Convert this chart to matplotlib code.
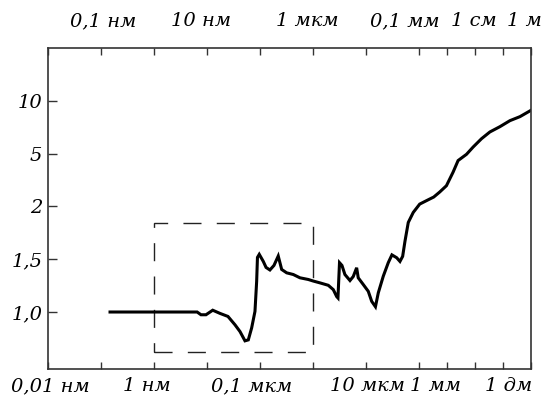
import numpy as np
import matplotlib
matplotlib.use("Agg")
import matplotlib.pyplot as plt
from matplotlib.patches import Rectangle

# Characteristic length (m) and the ratio plotted against it
length_m = [1.5e-10, 6.6e-9, 7.8e-9, 9.7e-9, 1.3e-8, 1.78e-8, 2.52e-8, 3.42e-8,
            4.25e-8, 5.28e-8, 6.1e-8, 7.06e-8, 8.15e-8, 8.77e-8, 9.08e-8, 9.82e-8,
            1.17e-7, 1.32e-7, 1.56e-7, 1.86e-7, 2.24e-7, 2.6e-7, 3.23e-7, 4.31e-7,
            5.75e-7, 8.26e-7, 1.03e-6, 1.37e-6, 1.97e-6, 2.45e-6, 2.84e-6, 3.0e-6,
            3.21e-6, 3.57e-6, 4.06e-6, 5.06e-6, 5.83e-6, 6.76e-6, 7.24e-6, 9.02e-6,
            1.12e-5, 1.3e-5, 1.53e-5, 1.73e-5, 2.15e-5, 2.67e-5, 3.13e-5, 3.85e-5,
            4.44e-5, 4.99e-5, 5.52e-5, 6.37e-5, 7.91e-5, 1.09e-4, 2.09e-4, 3.44e-4,
            5.62e-4, 9.75e-4, 1.68e-3, 2.54e-3, 5.06e-3, 8.69e-3, 1.73e-2, 3.44e-2,
            7.82e-2, 1.78e-1, 4.05e-1, 1.0]
ratio = [1.0, 1.0, 0.974, 0.974, 1.017, 0.987, 0.958, 0.879,
         0.815, 0.727, 0.736, 0.85, 1.006, 1.291, 1.517, 1.546,
         1.479, 1.422, 1.398, 1.441, 1.53, 1.403, 1.371, 1.355,
         1.324, 1.308, 1.293, 1.276, 1.253, 1.212, 1.146, 1.133,
         1.467, 1.441, 1.355, 1.298, 1.336, 1.419, 1.324, 1.26,
         1.196, 1.101, 1.05, 1.181, 1.339, 1.467, 1.541, 1.514,
         1.479, 1.527, 1.67, 1.848, 1.943, 2.131, 2.36, 2.532,
         2.817, 3.175, 3.943, 4.606, 4.96, 5.62, 6.41, 7.05,
         7.55, 8.12, 8.5, 9.1]

y_ticks = [1.0, 1.5, 2, 5, 10]
y_labels = ["1,0", "1,5", "2", "5", "10"]

decades = [1e-11, 1e-10, 1e-9, 1e-8, 1e-7, 1e-6, 1e-5, 1e-4, 1e-3, 1e-2, 1e-1, 1.0]

bottom_ticks = [1e-11, 1e-9, 1e-7, 1e-5, 1e-3, 1e-1]
bottom_labels = ["0,01 нм", "1 нм", "0,1 мкм", "10 мкм", "1 мм", "1 дм"]
bottom_shift = [2, -5, -6, 1, -8, 4]          # horizontal nudge, points

top_ticks = [1e-10, 1e-8, 1e-6, 1e-4, 1e-2, 1.0]
top_labels = ["0,1 нм", "10 нм", "1 мкм", "0,1 мм", "1 см", "1 м"]
top_shift = [2, -4, -4, -10, -1, -5]          # horizontal nudge, points

box_x = [1e-9, 1e-6]
box_y = [0.625, 1.84]

x_limits = [1e-11, 1.0]
y_limits = [0.465, 15.0]

# Ratio axis: equal spacing between the labelled levels
Y_POS = np.arange(len(y_ticks), dtype=float)


def y_fwd(v):
    v = np.asarray(v, dtype=float)
    p = np.interp(v, y_ticks, Y_POS)
    p = np.where(v < y_ticks[0], (v - 1.0) / 0.5, p)
    p = np.where(v > y_ticks[-1], 4.0 + (v - 10.0) / 5.0, p)
    return p


def y_inv(p):
    p = np.asarray(p, dtype=float)
    v = np.interp(p, Y_POS, y_ticks)
    v = np.where(p < 0, 1.0 + 0.5 * p, v)
    v = np.where(p > 4, 10.0 + 5.0 * (p - 4.0), v)
    return v


# Length axis: logarithmic, with decades above 0.1 mm drawn compressed
COMPRESS = 0.53


def x_fwd(x):
    x = np.asarray(x, dtype=float)
    with np.errstate(divide="ignore", invalid="ignore"):
        lg = np.log10(np.where(x > 0, x, np.nan))
    return np.where(lg <= -4, lg, -4 + (lg + 4) * COMPRESS)


def x_inv(p):
    p = np.asarray(p, dtype=float)
    with np.errstate(over="ignore"):
        return np.where(p <= -4, 10.0 ** p, 10.0 ** (-4 + (p + 4) / COMPRESS))


font = dict(family="DejaVu Serif", style="italic", size=14)
spine_col = "#333333"

fig = plt.figure(figsize=(5.46, 3.98), dpi=100)
ax = fig.add_axes([0.0874, 0.0741, 0.8851, 0.8053])

ax.set_xscale("function", functions=(x_fwd, x_inv))
ax.set_yscale("function", functions=(y_fwd, y_inv))
ax.set_xlim(*x_limits)
ax.set_ylim(*y_limits)

ax.plot(length_m, ratio, color="black", lw=2.2, solid_joinstyle="miter")

rect = Rectangle((box_x[0], box_y[0]), box_x[1] - box_x[0], box_y[1] - box_y[0],
                 fill=False, ec="#222222", lw=1.0, ls=(0, (13, 11)))
ax.add_patch(rect)

ax.set_yticks(y_ticks)
ax.set_yticklabels(y_labels, fontdict=font)
ax.set_xticks(decades)
ax.set_xticklabels([])
ax.minorticks_off()
ax.tick_params(axis="x", direction="in", length=5, width=1.0, color=spine_col,
               top=True, bottom=True, labelbottom=False, labeltop=False)
ax.tick_params(axis="y", direction="in", length=6.5, width=1.0, color=spine_col,
               pad=4, right=False)

# Length labels, alternating between the lower and upper edge
for x, lab, dx in zip(bottom_ticks, bottom_labels, bottom_shift):
    ax.annotate(lab, xy=(x, 0), xycoords=("data", "axes fraction"),
                xytext=(dx, -12.5), textcoords="offset points",
                ha="center", va="center", fontsize=14,
                fontfamily="DejaVu Serif", fontstyle="italic", annotation_clip=False)
for x, lab, dx in zip(top_ticks, top_labels, top_shift):
    ax.annotate(lab, xy=(x, 1), xycoords=("data", "axes fraction"),
                xytext=(dx, 19.5), textcoords="offset points",
                ha="center", va="center", fontsize=14,
                fontfamily="DejaVu Serif", fontstyle="italic", annotation_clip=False)

for s in ax.spines.values():
    s.set_color(spine_col)
    s.set_linewidth(1.2)

fig.savefig("out.png", dpi=100)
